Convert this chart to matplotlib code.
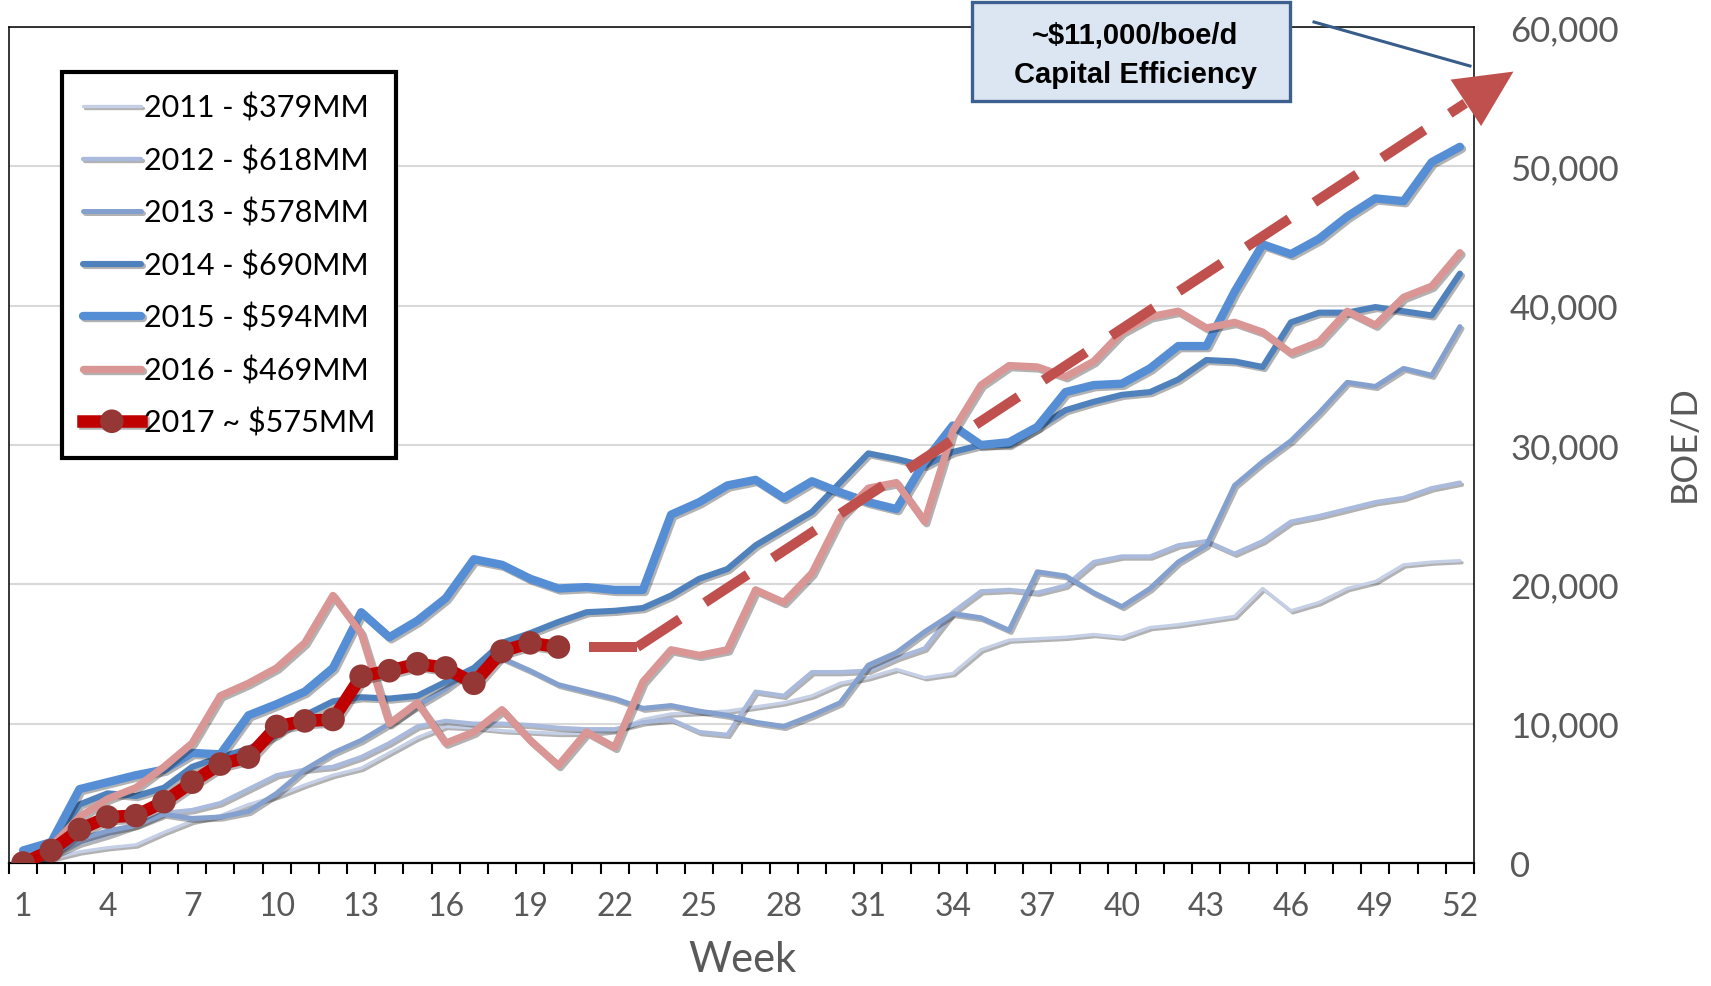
import matplotlib
matplotlib.use('Agg')
import matplotlib.pyplot as plt
import matplotlib.patheffects as pe
from matplotlib.patches import Rectangle
from matplotlib.lines import Line2D
import numpy as np

plt.rcParams['font.family'] = ['Lato', 'DejaVu Sans']

# weekly production, boe/d
weeks = np.arange(1, 53)
y2011 = [0, 300, 800, 1100, 1300, 2200, 3000, 3400, 4200, 4800,
         5600, 6300, 6800, 7900, 9000, 9800, 9700, 9500, 9400, 9300, 9300,
         9500, 10300, 10700, 10800, 10900, 11200, 11500, 12000, 12900, 13300,
         13900, 13300, 13600, 15300, 16000, 16100, 16200, 16400, 16200, 16900,
         17100, 17400, 17700, 19700, 18100, 18700, 19700, 20200, 21400, 21600, 21700]
y2012 = [0, 500, 1400, 2000, 2700, 3600, 3800, 4300, 5300, 6300,
         6700, 6900, 7600, 8600, 9800, 10200, 10000, 10000, 9900, 9700, 9600,
         9600, 10100, 10300, 9400, 9200, 12300, 12000, 13700, 13700, 13800,
         14700, 15400, 18000, 19500, 19600, 19400, 19900, 21600, 22000, 22000,
         22800, 23100, 22200, 23100, 24500, 24900, 25400, 25900, 26200, 26900, 27300]
y2013 = [0, 600, 1700, 2300, 2700, 3500, 3200, 3300, 3700, 5000,
         6700, 7900, 8800, 10000, 11300, 12500, 14000, 14700, 13800, 12800, 12300,
         11800, 11100, 11300, 10900, 10600, 10100, 9800, 10600, 11500, 14200,
         15100, 16600, 17900, 17600, 16700, 20900, 20600, 19400, 18400, 19700,
         21600, 22800, 27100, 28800, 30300, 32300, 34500, 34200, 35500, 35000, 38500]
y2014 = [0, 1000, 4200, 5000, 4800, 5400, 6900, 7600, 8200, 9200,
         10600, 11600, 11900, 11800, 12000, 13000, 14000, 15800, 16500, 17300, 18000,
         18100, 18300, 19200, 20400, 21100, 22800, 24000, 25200, 27300, 29400,
         29000, 28500, 29500, 30000, 30000, 31200, 32500, 33100, 33600, 33800,
         34700, 36100, 36000, 35600, 38800, 39500, 39500, 39900, 39600, 39300, 42300]
y2015 = [900, 1500, 5300, 5800, 6300, 6700, 7900, 7800, 10600, 11400,
         12300, 14000, 18000, 16200, 17400, 19000, 21800, 21400, 20400, 19700, 19800,
         19600, 19600, 25000, 25900, 27100, 27500, 26200, 27400, 26600, 25900,
         25400, 28800, 31400, 30000, 30200, 31300, 33800, 34300, 34400, 35500,
         37100, 37100, 41000, 44400, 43700, 44800, 46400, 47700, 47500, 50300, 51400]
y2016 = [0, 1200, 3300, 4600, 5400, 6900, 8600, 12000, 12900, 14000,
         15800, 19200, 16500, 10000, 11500, 8600, 9400, 11000, 8800, 7000, 9400,
         8300, 13000, 15300, 14900, 15300, 19600, 18700, 20800, 24800, 26900,
         27300, 24500, 31000, 34300, 35700, 35600, 34900, 36000, 38100, 39200,
         39600, 38400, 38800, 38100, 36600, 37400, 39600, 38600, 40600, 41400, 43800]
y2017 = [0, 900, 2400, 3300, 3400, 4400, 5800, 7100, 7600, 9800,
         10200, 10300, 13400, 13800, 14300, 14000, 12900, 15200, 15800, 15500]

labels = ['2011 - $379MM', '2012 - $618MM', '2013 - $578MM', '2014 - $690MM',
          '2015 - $594MM', '2016 - $469MM', '2017 ~ $575MM']

# trend arrow (week, boe/d)
trend_x = [21.1, 22.8, 53.9]
trend_y = [15500, 15500, 56800]

colors = ['#C5D0E6', '#A9BADC', '#84A0CE', '#4F81BD', '#558ED5', '#D99694']
widths = [2.4, 3.1, 3.6, 4.4, 6.0, 5.3]

fig = plt.figure(figsize=(17.11, 9.87), dpi=100)
ax = fig.add_axes([9 / 1711, 123 / 987, 1465 / 1711, 836 / 987])

shadow = [pe.SimpleLineShadow(offset=(1.5, -1.5), shadow_color='black', alpha=0.3), pe.Normal()]

handles = []
for vals, c, w in zip([y2011, y2012, y2013, y2014, y2015, y2016], colors, widths):
    ln, = ax.plot(weeks, vals, color=c, lw=w, solid_joinstyle='round',
                  solid_capstyle='round', path_effects=shadow, zorder=3)
    handles.append(ln)

ln17, = ax.plot(weeks[:len(y2017)], y2017, color='#C00000', lw=9, marker='o',
                markersize=17, markerfacecolor='#953735', markeredgewidth=0,
                solid_joinstyle='round', path_effects=shadow, zorder=6)
handles.append(ln17)

# trend: short flat piece, dashed diagonal, arrow head
ax.plot(trend_x[:2], trend_y[:2], color='#C0504D', lw=7.2, solid_capstyle='butt',
        zorder=5, clip_on=False)
frac = 0.945
bx = trend_x[1] + frac * (trend_x[2] - trend_x[1])
by = trend_y[1] + frac * (trend_y[2] - trend_y[1])
ax.plot([trend_x[1], bx], [trend_y[1], by], color='#C0504D', lw=7.2,
        dashes=(5.1, 3.0), dash_capstyle='butt', zorder=5, clip_on=False)
ax.annotate('', xy=(trend_x[2], trend_y[2]), xytext=(trend_x[1], trend_y[1]),
            annotation_clip=False, zorder=5,
            arrowprops=dict(arrowstyle='-|>,head_length=41,head_width=20',
                            mutation_scale=1, color='#C0504D', lw=0,
                            shrinkA=0, shrinkB=0))

ax.set_xlim(0.5, 52.5)
ax.set_ylim(0, 60000)
ax.set_yticks(range(0, 60001, 10000))
ax.set_yticklabels([f'{v:,}' for v in range(0, 60001, 10000)])
ax.yaxis.tick_right()
ax.grid(axis='y', color='#D9D9D9', lw=1.5)
ax.set_axisbelow(True)
ax.tick_params(axis='y', length=0, pad=26, labelsize=25, labelcolor='#595959')

ax.set_xticks(range(1, 53, 3))
ax.set_xticks(np.arange(0.5, 53, 1), minor=True)
ax.tick_params(axis='x', which='major', length=0, pad=20, labelsize=23, labelcolor='#595959')
ax.tick_params(axis='x', which='minor', length=8, width=1.5, direction='out', color='black')

for s in ['left', 'top', 'right']:
    ax.spines[s].set_color('black')
    ax.spines[s].set_linewidth(1.1)
ax.spines['bottom'].set_linewidth(1.6)

fig.text(742 / 1711, 1 - 960 / 987, 'Week', ha='center', va='center',
         fontsize=30, color='#595959')
fig.text(1684 / 1711, 1 - 444 / 987, 'BOE/D', rotation=90, ha='center',
         va='center', fontsize=26, color='#595959')

leg = ax.legend(handles, labels, loc='upper left',
                bbox_to_anchor=(62 / 1711, 1 - 73 / 987), bbox_transform=fig.transFigure,
                fancybox=False, edgecolor='black', framealpha=1, fontsize=22,
                handlelength=1.9, handletextpad=0.1, labelspacing=0.77,
                borderpad=0.68, borderaxespad=0)
leg.get_frame().set_linewidth(3)
leg.set_zorder(10)

# callout box
fig.add_artist(Rectangle((972 / 1711, 1 - 102 / 987), 318 / 1711, 99 / 987,
                         transform=fig.transFigure, facecolor='#DCE6F2',
                         edgecolor='#3C6090', lw=2.4))
fig.add_artist(Line2D([1314 / 1711, 1470 / 1711], [1 - 23 / 987, 1 - 67 / 987],
                      transform=fig.transFigure, color='#385D8A', lw=2.2))
fig.text(1135 / 1711, 1 - 36 / 987, '~$11,000/boe/d', ha='center', va='center',
         fontsize=21, fontweight='bold', family='Liberation Sans')
fig.text(1135 / 1711, 1 - 75 / 987, 'Capital Efficiency', ha='center', va='center',
         fontsize=21, fontweight='bold', family='Liberation Sans')

fig.savefig('out.png', dpi=100)
